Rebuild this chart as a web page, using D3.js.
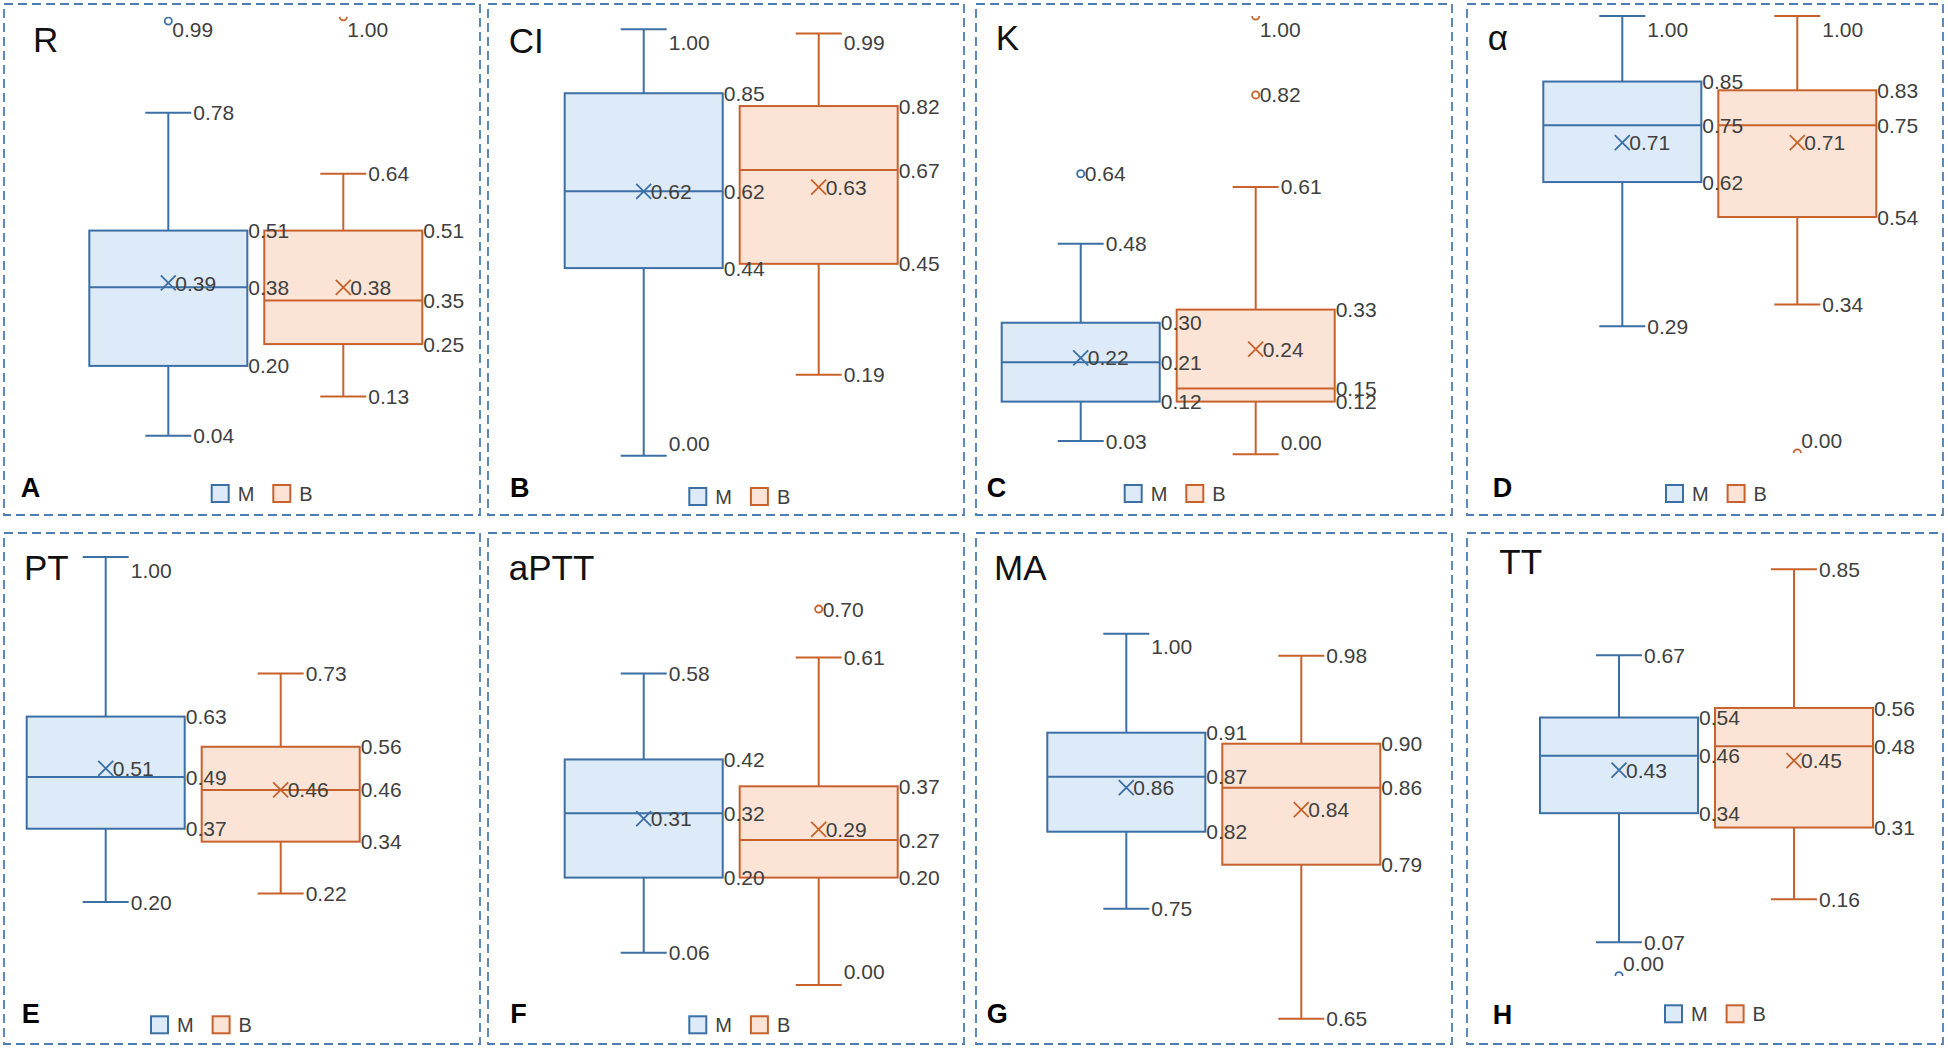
<!DOCTYPE html>
<html><head><meta charset="utf-8">
<script src="https://cdn.jsdelivr.net/npm/d3@7"></script>
<style>body{margin:0;background:#fff}</style>
</head><body>
<svg id="chart" width="1948" height="1054"></svg>
<script>
// ---------- DATA ----------
const panelTitles  = ["R", "CI", "K", "α", "PT", "aPTT", "MA", "TT"];
const panelLetters = ["A", "B", "C", "D", "E", "F", "G", "H"];
const seriesNames  = ["M", "B"];
// [min, q1, median, q3, max]
const mStats = [
  [0.04, 0.20, 0.38, 0.51, 0.78],
  [0.00, 0.44, 0.62, 0.85, 1.00],
  [0.03, 0.12, 0.21, 0.30, 0.48],
  [0.29, 0.62, 0.75, 0.85, 1.00],
  [0.20, 0.37, 0.49, 0.63, 1.00],
  [0.06, 0.20, 0.32, 0.42, 0.58],
  [0.75, 0.82, 0.87, 0.91, 1.00],
  [0.07, 0.34, 0.46, 0.54, 0.67]
];
const mMeans    = [0.39, 0.62, 0.22, 0.71, 0.51, 0.31, 0.86, 0.43];
const mOutliers = [[0.99], [], [0.64], [], [], [], [], [0.00]];
const bStats = [
  [0.13, 0.25, 0.35, 0.51, 0.64],
  [0.19, 0.45, 0.67, 0.82, 0.99],
  [0.00, 0.12, 0.15, 0.33, 0.61],
  [0.34, 0.54, 0.75, 0.83, 1.00],
  [0.22, 0.34, 0.46, 0.56, 0.73],
  [0.00, 0.20, 0.27, 0.37, 0.61],
  [0.65, 0.79, 0.86, 0.90, 0.98],
  [0.16, 0.31, 0.48, 0.56, 0.85]
];
const bMeans    = [0.38, 0.63, 0.24, 0.71, 0.46, 0.29, 0.84, 0.45];
const bOutliers = [[1.00], [], [0.82, 1.00], [0.00], [], [0.70], [], []];
const showLegend = [true, true, true, true, true, true, false, true];

// ---------- LAYOUT (panel-local pixels) ----------
const panelW = 476, panelH = 511;
const panelX = [4, 488, 976, 1467];
const panelY = [4, 533];
const layout = [
  {y0:449.2, y1:12.7,  top:12.7, bottom:450, boxLeft:85.3, title:[29,48],   letter:[16.7,493], legend:[207.7,481]},
  {y0:451.7, y1:25.3,  top:25,   bottom:452, boxLeft:76.7, title:[20.7,49], letter:[22,492.7], legend:[201.3,484]},
  {y0:450.2, y1:12,    top:12,   bottom:451, boxLeft:25.7, title:[19.7,46], letter:[10.7,492.7], legend:[148.7,481]},
  {y0:449,   y1:12,    top:12,   bottom:449, boxLeft:76.3, title:[20.7,46], letter:[25.7,492.7], legend:[199,481]},
  {y0:455.3, y1:24,    top:24,   bottom:456, boxLeft:22.7, title:[20,47],   letter:[17.7,489.7], legend:[147,483.3]},
  {y0:452,   y1:-85,   top:10,   bottom:451, boxLeft:76.7, title:[20.7,47.3], letter:[22.3,489.7], legend:[201.3,483.3]},
  {y0:1200.7,y1:100.7, top:100.5,bottom:500, boxLeft:71.3, title:[18,47.3], letter:[10.7,489.7], legend:[0,0]},
  {y0:442.8, y1:-35.5, top:10,   bottom:443, boxLeft:73,   title:[32.3,40.7], letter:[25.7,490.7], legend:[198,472.3]}
];

const stroke = {M:"#3B6FA6", B:"#C8622C"};
const fill   = {M:"#DDEAF7", B:"#FBE4D5"};
const labelColor = "#404040";
const fmt = d3.format(".2f");
const numFont = "'Liberation Sans', Arial, sans-serif";

const svg = d3.select("#chart");

panelTitles.forEach((title, i) => {
  const L = layout[i];
  const px = panelX[i % 4], py = panelY[Math.floor(i / 4)];
  const g = svg.append("g").attr("transform", `translate(${px},${py})`);

  g.append("rect").attr("x", 0).attr("y", 0).attr("width", panelW).attr("height", panelH)
    .attr("fill", "none").attr("stroke", "#4C7DB4").attr("stroke-width", 1.8)
    .attr("stroke-dasharray", "9,5");

  const clipId = "clip" + i;
  g.append("clipPath").attr("id", clipId).append("rect")
    .attr("x", 0).attr("y", L.top).attr("width", panelW).attr("height", L.bottom - L.top);

  const y = d3.scaleLinear().domain([0, 1]).range([L.y0, L.y1]);
  const x = d3.scaleBand().domain(seriesNames).range([L.boxLeft, L.boxLeft + 333])
    .paddingInner(0.097).paddingOuter(0);
  const bw = x.bandwidth();
  const capHalf = 23;
  const labelY = v => Math.max(L.top + 13, Math.min(L.bottom - 13, y(v)));

  const series = [
    {name:"M", s:mStats[i], mean:mMeans[i], out:mOutliers[i]},
    {name:"B", s:bStats[i], mean:bMeans[i], out:bOutliers[i]}
  ];

  const marks = g.append("g");
  const labels = g.append("g").attr("font-family", numFont).attr("font-size", 21)
    .attr("fill", labelColor);

  series.forEach(d => {
    const [mn, q1, md, q3, mx] = d.s;
    const x0 = x(d.name), cx = x0 + bw / 2, c = stroke[d.name];
    const sg = marks.append("g").attr("stroke", c).attr("stroke-width", 2).attr("fill", "none");
    // whiskers
    sg.append("line").attr("x1", cx).attr("x2", cx).attr("y1", y(q3)).attr("y2", y(mx));
    sg.append("line").attr("x1", cx).attr("x2", cx).attr("y1", y(q1)).attr("y2", y(mn));
    sg.append("line").attr("x1", cx - capHalf).attr("x2", cx + capHalf).attr("y1", y(mx)).attr("y2", y(mx));
    sg.append("line").attr("x1", cx - capHalf).attr("x2", cx + capHalf).attr("y1", y(mn)).attr("y2", y(mn));
    // box
    sg.append("rect").attr("x", x0).attr("y", y(q3)).attr("width", bw).attr("height", y(q1) - y(q3))
      .attr("fill", fill[d.name]);
    sg.append("line").attr("x1", x0).attr("x2", x0 + bw).attr("y1", y(md)).attr("y2", y(md));
    // mean marker
    const ym = y(d.mean), r = 7.5;
    sg.append("path").attr("d", `M${cx - r},${ym - r}L${cx + r},${ym + r}M${cx - r},${ym + r}L${cx + r},${ym - r}`)
      .attr("stroke-width", 1.8);
    // outliers
    const og = marks.append("g").attr("clip-path", `url(#${clipId})`);
    d.out.forEach(v => {
      og.append("circle").attr("cx", cx).attr("cy", y(v)).attr("r", 3.6)
        .attr("fill", "#fff").attr("stroke", c).attr("stroke-width", 1.8);
    });

    // labels
    const addLabel = (lx, v) => labels.append("text").attr("x", lx).attr("y", labelY(v))
      .attr("dy", "0.36em").text(fmt(v));
    addLabel(cx + capHalf + 2, mx);
    addLabel(cx + capHalf + 2, mn);
    addLabel(x0 + bw + 1, q3);
    addLabel(x0 + bw + 1, md);
    addLabel(x0 + bw + 1, q1);
    addLabel(cx + 7, d.mean);
    d.out.forEach(v => addLabel(cx + 4, v));
  });

  // title
  g.append("text").attr("x", L.title[0]).attr("y", L.title[1])
    .attr("font-family", "'Liberation Sans', Arial, sans-serif").attr("font-size", 35)
    .attr("fill", "#111").text(title);
  // panel letter
  g.append("text").attr("x", L.letter[0]).attr("y", L.letter[1])
    .attr("font-family", "'Liberation Sans', Arial, sans-serif").attr("font-size", 27)
    .attr("font-weight", "bold").attr("fill", "#000").text(panelLetters[i]);
  // legend
  if (showLegend[i]) {
    const lg = g.append("g").attr("transform", `translate(${L.legend[0]},${L.legend[1]})`);
    seriesNames.forEach((n, k) => {
      const item = lg.append("g").attr("transform", `translate(${k * 61.6},0)`);
      item.append("rect").attr("x", 0).attr("y", 0).attr("width", 17).attr("height", 17)
        .attr("fill", fill[n]).attr("stroke", stroke[n]).attr("stroke-width", 2);
      item.append("text").attr("x", 26).attr("y", 8.5).attr("dy", "0.36em")
        .attr("font-family", numFont).attr("font-size", 20).attr("fill", labelColor).text(n);
    });
  }
});
</script>
</body></html>
